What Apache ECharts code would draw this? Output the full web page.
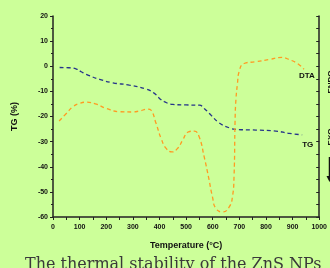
<!DOCTYPE html>
<html>
<head>
<meta charset="utf-8">
<script src="https://cdn.jsdelivr.net/npm/echarts@6/dist/echarts.min.js"></script>
<style>
  html, body { margin: 0; padding: 0; background: #ccff99; }
  #chart { width: 330px; height: 268px; }
</style>
</head>
<body>
<div id="chart"></div>
<script>
// TG curve (weight loss, %)
var tgTemp = [25, 60, 88, 106, 131, 175, 225, 287, 350, 381, 400, 418, 450, 500, 550, 568, 593, 624, 662, 687, 762, 837, 887, 936];
var tgVal  = [-0.5, -0.6, -1.1, -2.2, -3.5, -5.2, -6.6, -7.5, -9.1, -10.8, -12.8, -14.1, -15.2, -15.4, -15.5, -16.8, -19.4, -22.5, -24.5, -25.1, -25.4, -25.8, -26.7, -27.3];

// DTA curve
var dtaTemp = [23, 50, 75, 100, 125, 163, 200, 250, 300, 325, 356, 368, 387, 406, 425, 447, 468, 487, 509, 531, 549, 568, 584, 599, 612, 637, 662, 674, 680, 684, 687, 693, 699, 718, 762, 812, 861, 886, 918, 943];
var dtaVal  = [-21.8, -18.8, -16.1, -14.8, -14.3, -15.1, -16.8, -18.1, -18.2, -17.8, -17.1, -17.5, -22.7, -28.7, -32.7, -34.1, -32.7, -29.4, -26.1, -25.8, -28.1, -36.1, -44.0, -52.0, -56.6, -58.0, -56.0, -52.0, -44.0, -21.4, -13.5, -6.8, -2.2, 1.1, 1.8, 2.7, 3.5, 2.7, 1.1, -1.2];

var xTicks = [0, 1000, 100];
var yTicks = [-60, 20, 10];

function pairs(xs, ys) {
  return xs.map(function (x, i) { return [x, ys[i]]; });
}

var font = 'Liberation Sans, Arial, sans-serif';
var chart = echarts.init(document.getElementById('chart'));

var option = {
  backgroundColor: '#ccff99',
  animation: false,
  grid: { left: 53, right: 8, top: 16, bottom: 51 },
  xAxis: {
    type: 'value',
    min: xTicks[0],
    max: xTicks[1],
    interval: xTicks[2],
    name: 'Temperature (°C)',
    nameLocation: 'middle',
    nameGap: 24,
    nameTextStyle: { fontFamily: font, fontWeight: 'bold', fontSize: 9, color: '#111' },
    axisLine: { onZero: false, lineStyle: { color: '#222', width: 1.5 } },
    axisTick: { length: 3, lineStyle: { color: '#222' } },
    minorTick: { show: true, splitNumber: 2, length: 3, lineStyle: { color: '#222' } },
    axisLabel: { fontFamily: font, fontWeight: 'bold', fontSize: 7, color: '#111', margin: 7,
      formatter: function (v) { return String(v); } },
    splitLine: { show: false }
  },
  yAxis: [
    {
      type: 'value',
      min: yTicks[0],
      max: yTicks[1],
      interval: yTicks[2],
      name: 'TG (%)',
      nameLocation: 'middle',
      nameGap: 34,
      nameRotate: 90,
      nameTextStyle: { fontFamily: font, fontWeight: 'bold', fontSize: 9, color: '#111' },
      axisLine: { show: true, onZero: false, lineStyle: { color: '#222', width: 1.5 } },
      axisTick: { length: 3, lineStyle: { color: '#222' } },
      minorTick: { show: true, splitNumber: 2, length: 2, lineStyle: { color: '#222' } },
      axisLabel: { fontFamily: font, fontWeight: 'bold', fontSize: 7, color: '#111', margin: 5 },
      splitLine: { show: false }
    },
    {
      type: 'value',
      position: 'right',
      min: yTicks[0],
      max: yTicks[1],
      interval: 5,
      axisLine: { show: true, onZero: false, lineStyle: { color: '#222', width: 1.5 } },
      axisTick: { show: true, inside: true, length: 3, lineStyle: { color: '#222' } },
      axisLabel: { show: false },
      splitLine: { show: false }
    }
  ],
  series: [
    {
      name: 'TG',
      type: 'line',
      smooth: true,
      showSymbol: false,
      data: pairs(tgTemp, tgVal),
      lineStyle: { color: '#25338a', width: 1.3, type: [4, 3] },
      endLabel: {
        show: true,
        formatter: 'TG',
        fontFamily: font,
        fontWeight: 'bold',
        fontSize: 8,
        color: '#111',
        offset: [-8, 10]
      }
    },
    {
      name: 'DTA',
      type: 'line',
      smooth: true,
      showSymbol: false,
      data: pairs(dtaTemp, dtaVal),
      lineStyle: { color: '#ff9a22', width: 1.3, type: [4, 3] },
      endLabel: {
        show: true,
        formatter: 'DTA',
        fontFamily: font,
        fontWeight: 'bold',
        fontSize: 8,
        color: '#111',
        offset: [-13, 7]
      }
    }
  ],
  graphic: [
    {
      type: 'text',
      x: 327, y: 82, rotation: Math.PI / 2,
      style: { text: 'ENDO', font: 'bold 8px ' + font, fill: '#111', textAlign: 'center', textVerticalAlign: 'top' }
    },
    {
      type: 'text',
      x: 327, y: 137, rotation: Math.PI / 2,
      style: { text: 'EXO', font: 'bold 8px ' + font, fill: '#111', textAlign: 'center', textVerticalAlign: 'top' }
    },
    {
      type: 'line',
      shape: { x1: 329.5, y1: 157, x2: 329.5, y2: 177 },
      style: { stroke: '#111', lineWidth: 1.5 }
    },
    {
      type: 'polygon',
      shape: { points: [[326.5, 176], [332.5, 176], [329.5, 182]] },
      style: { fill: '#111' }
    },
    {
      type: 'text',
      left: 25, top: 257,
      style: { text: 'The thermal stability of the ZnS NPs', font: '16px DejaVu Serif, serif', fill: '#3a3a3a' }
    }
  ]
};

chart.setOption(option);
</script>
</body>
</html>
